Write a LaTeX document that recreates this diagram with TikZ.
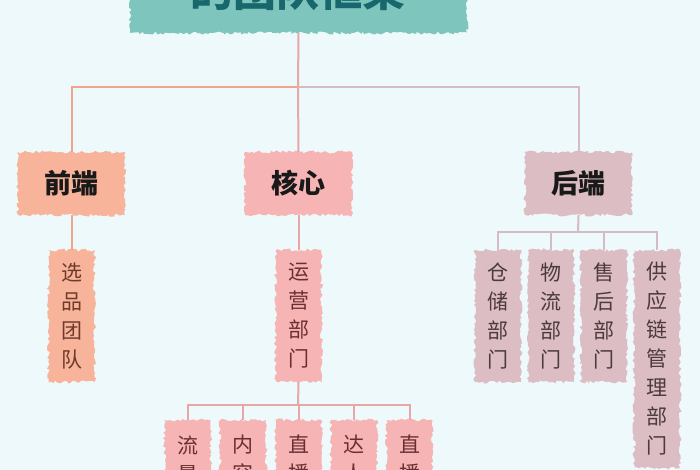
\documentclass[tikz,border=0pt]{standalone}
\usepackage{fontspec}
\setmainfont{Noto Sans CJK SC}
\usetikzlibrary{decorations.pathmorphing}
\definecolor{bg}{HTML}{EEF9FB}
\definecolor{teal}{HTML}{7EC6BD}
\definecolor{tealtext}{HTML}{17676D}
\definecolor{peach}{HTML}{F7B49A}
\definecolor{pinkc}{HTML}{F6B4B5}
\definecolor{mauve}{HTML}{DDBDC4}
\definecolor{lineL}{HTML}{EFA58C}
\definecolor{lineM}{HTML}{E8A6A7}
\definecolor{lineR}{HTML}{D6BCC2}
\definecolor{txtF}{HTML}{6E3A2A}
\definecolor{txtC}{HTML}{6B2F33}
\definecolor{txtB}{HTML}{4B3A3E}
\tikzset{
  brush/.style={inner sep=0pt, decorate,
    decoration={random steps, segment length=2.5pt, amplitude=1.6pt}},
  headbox/.style={brush, minimum width=107, minimum height=63,
    font=\fontsize{27}{30}\selectfont\bfseries, text=black!90},
  vbox/.style={brush, minimum width=46, align=center,
    font=\fontsize{21}{29}\selectfont},
  vtext/.style={inner sep=0pt, align=center, font=\fontsize{21}{29}\selectfont},
  conn/.style={line width=2pt}
}
\begin{document}
\begin{tikzpicture}[x=1pt,y=-1pt]
\clip (0,0) rectangle (700,470);
\fill[bg] (0,0) rectangle (700,470);
\useasboundingbox (0,0) rectangle (700,470);

% title
\node[brush, fill=teal, minimum width=337, minimum height=66] (t) at (298.5,0) {};
\node[font=\fontsize{43}{48}\selectfont\bfseries, text=tealtext] (tt) at (298,-10) {的团队框架};

% headers
\node[headbox, fill=peach] (f) at (71.5,183.5) {前端};
\node[headbox, fill=pinkc] (c) at (298.5,183.5) {核心};
\node[headbox, fill=mauve] (b) at (578.5,183.5) {后端};

\coordinate (j0) at (298,87);
\draw[conn, lineM] (t.south) -- (j0);
\draw[conn, lineL] (j0) -| (f.north);
\draw[conn, lineM] (j0) -- (c.north);
\draw[conn, lineR] (j0) -| (b.north);

% front
\node[vbox, fill=peach, text=txtF, minimum height=132] (f1) at (71.5,316) {选\\品\\团\\队};
\draw[conn, lineL] (f.south) -- (f1.north);

% core
\node[vbox, fill=pinkc, text=txtC, minimum height=132] (c1) at (298.5,316) {运\\营\\部\\门};
\draw[conn, lineM] (c.south) -- (c1.north);
\coordinate (jc) at (298,405);
\draw[conn, lineM] (c1.south) -- (jc);
\foreach \n/\x/\s in {c2/187.5/流\\量, c3/243/内\\容, c4/298.5/直\\播, c5/354/达\\人, c6/409.5/直\\播}{
  \node[brush, fill=pinkc, minimum width=46, minimum height=136] (\n) at (\x,488) {};
  \node[vtext, text=txtC] (\n t) at (\x,459.5) {\s};
  \draw[conn, lineM] (jc) -| (\n.north);
}

% back
\coordinate (jb) at (578,232);
\draw[conn, lineR] (b.south) -- (jb);
\node[vbox, fill=mauve, text=txtB, minimum height=132] (b1) at (498,316) {仓\\储\\部\\门};
\node[vbox, fill=mauve, text=txtB, minimum height=132] (b2) at (551,316) {物\\流\\部\\门};
\node[vbox, fill=mauve, text=txtB, minimum height=132] (b3) at (604,316) {售\\后\\部\\门};
\node[vbox, fill=mauve, text=txtB, minimum height=218] (b4) at (657,359) {供\\应\\链\\管\\理\\部\\门};
\foreach \n in {b1,b2,b3,b4}{
  \draw[conn, lineR] (jb) -| (\n.north);
}
\end{tikzpicture}
\end{document}
